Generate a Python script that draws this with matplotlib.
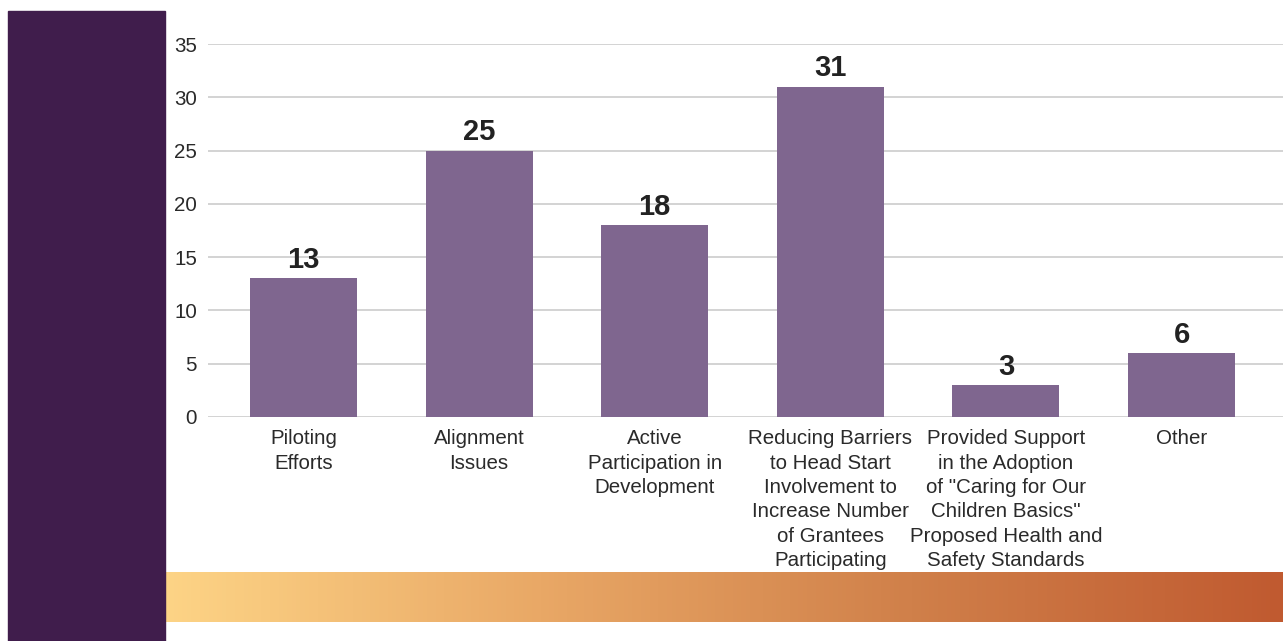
import matplotlib.pyplot as plt
from matplotlib.patches import Rectangle
from matplotlib.colors import LinearSegmentedColormap
import numpy as np

plt.rcParams['font.family'] = ['Liberation Sans', 'DejaVu Sans']

# Data
categories = ["Piloting\nEfforts",
              "Alignment\nIssues",
              "Active\nParticipation in\nDevelopment",
              "Reducing Barriers\nto Head Start\nInvolvement to\nIncrease Number\nof Grantees\nParticipating",
              "Provided Support\nin the Adoption\nof \"Caring for Our\nChildren Basics\"\nProposed Health and\nSafety Standards",
              "Other"]
values = [13, 25, 18, 31, 3, 6]
yticks = [0, 5, 10, 15, 20, 25, 30, 35]

W, H = 1283, 641
fig = plt.figure(figsize=(W / 100, H / 100), dpi=100)

# Purple sidebar
fig.patches.append(Rectangle((8 / W, 0), (165 - 8) / W, (641 - 11) / H,
                             transform=fig.transFigure, color='#401d4c', zorder=0))

# Gradient band along the bottom
gax = fig.add_axes([165 / W, (641 - 622) / H, (1283 - 165) / W, 50 / H])
cmap = LinearSegmentedColormap.from_list('band', ['#fdd486', '#e9a866', '#d0804a', '#c05a30'])
gax.imshow(np.linspace(0, 1, 256)[None, :], aspect='auto', cmap=cmap)
gax.axis('off')

# Main chart
ax = fig.add_axes([208 / W, 224 / H, (1283 - 208) / W, (597 - 224) / H])
x = np.arange(len(values))
ax.bar(x, values, width=0.61, color='#7f668f', zorder=3)
for xi, v in zip(x, values):
    ax.annotate(str(v), (xi, v), xytext=(0, 3), textcoords='offset points',
                ha='center', va='bottom', fontsize=21, fontweight='bold', color='#222222')

ax.set_xlim(-0.544, 5.578)
ax.set_ylim(0, 35)
ax.set_yticks(yticks)
ax.grid(axis='y', color='#cccccc', linewidth=1.2, zorder=0)
ax.set_xticks(x)
ax.set_xticklabels(categories, fontsize=14.8, color='#2a2a2a', linespacing=1.35)
ax.tick_params(axis='both', length=0, labelsize=14.8, labelcolor='#2a2a2a')
ax.tick_params(axis='y', pad=8)
ax.tick_params(axis='x', pad=9)
for s in ax.spines.values():
    s.set_visible(False)

fig.savefig('out.png', dpi=100)
